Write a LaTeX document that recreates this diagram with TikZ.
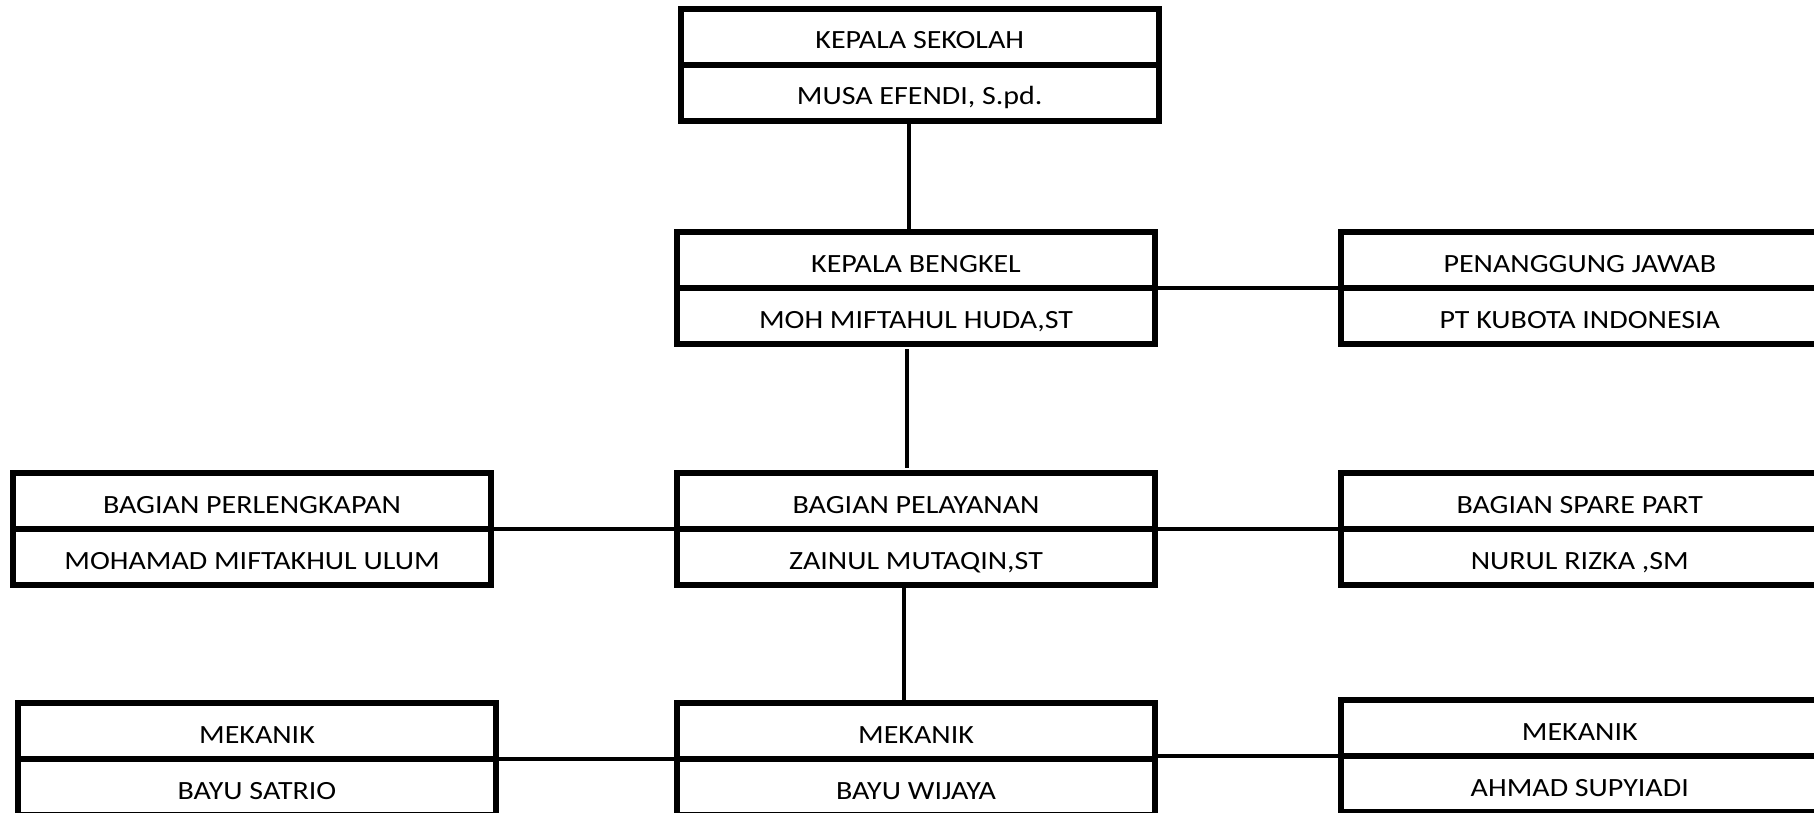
\documentclass[tikz,border=0pt]{standalone}
\usepackage{fontspec}
\setmainfont{Carlito}[FakeStretch=1.14]
\usetikzlibrary{positioning}

\tikzset{
  jabatan/.style={draw, line width=6pt, minimum width=477.5pt, minimum height=56pt,
    inner sep=0pt, outer sep=0pt, text height=31pt, text depth=7pt,
    font=\fontsize{26.3}{30}\selectfont},
  garis/.style={line width=4pt},
}

\begin{document}
\begin{tikzpicture}[x=1pt,y=-1pt]
  \useasboundingbox (0,0) rectangle (1814,813);

  % kepala sekolah
  \node[jabatan] (kepsek) at (919.75,37) {KEPALA SEKOLAH};
  \node[jabatan, below=0pt of kepsek] (kepsekNama) {MUSA EFENDI, S.pd.};

  % kepala bengkel dan penanggung jawab
  \node[jabatan] (bengkel) at (916,260) {KEPALA BENGKEL};
  \node[jabatan, below=0pt of bengkel] (bengkelNama) {MOH MIFTAHUL HUDA,ST};
  \node[jabatan] (pj) at (1579.75,260) {PENANGGUNG JAWAB};
  \node[jabatan, below=0pt of pj] (pjNama) {PT KUBOTA INDONESIA};

  % bagian
  \node[jabatan] (perlengkapan) at (252,501) {BAGIAN PERLENGKAPAN};
  \node[jabatan, below=0pt of perlengkapan] (perlengkapanNama) {MOHAMAD MIFTAKHUL ULUM};
  \node[jabatan] (pelayanan) at (916,501) {BAGIAN PELAYANAN};
  \node[jabatan, below=0pt of pelayanan] (pelayananNama) {ZAINUL MUTAQIN,ST};
  \node[jabatan] (sparepart) at (1579.75,501) {BAGIAN SPARE PART};
  \node[jabatan, below=0pt of sparepart] (sparepartNama) {NURUL RIZKA ,SM};

  % mekanik
  \node[jabatan] (mekKiri) at (257,731) {MEKANIK};
  \node[jabatan, below=0pt of mekKiri] (mekKiriNama) {BAYU SATRIO};
  \node[jabatan] (mekTengah) at (916,731) {MEKANIK};
  \node[jabatan, below=0pt of mekTengah] (mekTengahNama) {BAYU WIJAYA};
  \node[jabatan] (mekKanan) at (1579.75,728) {MEKANIK};
  \node[jabatan, below=0pt of mekKanan] (mekKananNama) {AHMAD SUPYIADI};

  % garis vertikal
  \draw[garis] ([xshift=-11pt]kepsekNama.south) coordinate (g1) -- (g1 |- bengkel.north);
  \draw[garis, shorten <=5pt, shorten >=5pt] ([xshift=-9pt]bengkelNama.south) coordinate (g2) -- (g2 |- pelayanan.north);
  \draw[garis] ([xshift=-12pt]pelayananNama.south) coordinate (g3) -- (g3 |- mekTengah.north);

  % garis horizontal
  \draw[garis] (bengkel.south east) -- (pj.south west);
  \draw[garis] (perlengkapan.south east) -- (pelayanan.south west);
  \draw[garis] (pelayanan.south east) -- (sparepart.south west);
  \draw[garis] (mekKiri.south east) -- (mekTengah.south west);
  \draw[garis] (mekKanan.south west) -- (mekKanan.south west -| mekTengah.east);
\end{tikzpicture}
\end{document}
